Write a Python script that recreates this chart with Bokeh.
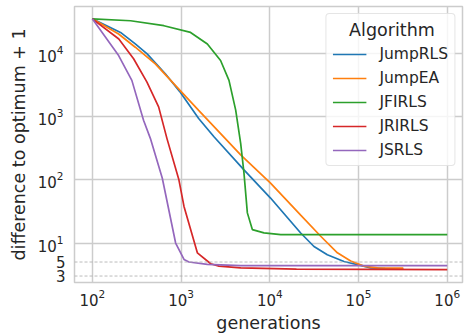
from bokeh.plotting import figure
from bokeh.models import FixedTicker, Span, Legend, LegendItem, LogAxis, BasicTickFormatter
from bokeh.embed import file_html
from bokeh.resources import INLINE

# ---- data ----
jumprls_x = [100, 208, 305, 415, 665, 963, 1580, 2350, 5120, 10200, 22300, 31500, 44500, 68600, 97200, 137000, 200000, 320000]
jumprls_y = [35500, 21600, 14200, 9890, 4790, 2520, 937, 481, 144, 51.5, 14.4, 8.8, 6.5, 5.1, 4.55, 4.04, 3.95, 3.9]

jumpea_x = [100, 198, 305, 513, 863, 1580, 4700, 10200, 22300, 37500, 57800, 81600, 115000, 163000, 320000]
jumpea_y = [35500, 20400, 12600, 6880, 3130, 1260, 248, 88.7, 27.6, 12.8, 7.0, 5.2, 4.3, 4.05, 4.0]

jfirls_x = [100, 270, 641, 1280, 1980, 2790, 3470, 4130, 4700, 5120, 5590, 6360, 8600, 13300, 1000000]
jfirls_y = [35500, 33100, 27600, 21600, 14200, 7760, 3760, 1270, 379, 128, 30, 16.3, 14.5, 13.6, 13.6]

jrirls_x = [100, 199, 292, 413, 559, 693, 946, 1080, 1527, 2160, 2675, 4700, 20000, 1000000]
jrirls_y = [35500, 17000, 8260, 3530, 1430, 454, 100, 38, 7.0, 4.7, 4.3, 4.05, 3.85, 3.8]

jsrls_x = [100, 198, 279, 378, 451, 615, 869, 1080, 1228, 1980, 4700, 1000000]
jsrls_y = [35500, 9300, 3760, 881, 454, 106, 10, 5.5, 5.0, 4.6, 4.4, 4.4]

names = ["JumpRLS", "JumpEA", "JFIRLS", "JRIRLS", "JSRLS"]
xs = [jumprls_x, jumpea_x, jfirls_x, jrirls_x, jsrls_x]
ys = [jumprls_y, jumpea_y, jfirls_y, jrirls_y, jsrls_y]
colors = ["#1f77b4", "#ff7f0e", "#2ca02c", "#d62728", "#9467bd"]

x_ticks = [100, 1000, 10000, 100000, 1000000]
y_ticks = [10, 100, 1000, 10000]
extra_y_ticks = [3, 5]

TXT = "#262626"
GRID = "#cccccc"
FONT = "DejaVu Sans"

p = figure(width=465, height=335, x_axis_type="log", y_axis_type="log",
           x_range=(63, 1.486e6), y_range=(2.37, 55600),
           output_backend="svg", toolbar_location=None,
           min_border_left=74, min_border_right=3, min_border_top=6, min_border_bottom=52)

p.outline_line_color = GRID
p.outline_line_width = 1.5
p.background_fill_color = "white"

renderers = []
for n, x, y, c in zip(names, xs, ys, colors):
    r = p.line(x, y, line_color=c, line_width=1.7)
    renderers.append(r)

for v in extra_y_ticks:
    p.add_layout(Span(location=v, dimension="width", line_color="#aaaaaa",
                      line_width=0.8, line_dash="3 2"))

# inner left axis: the 3 / 5 ticks
small_axis = LogAxis(ticker=FixedTicker(ticks=extra_y_ticks), formatter=BasicTickFormatter())
main_y = p.yaxis[0]
p.left = [small_axis, main_y]

p.xaxis.ticker = FixedTicker(ticks=x_ticks)
main_y.ticker = FixedTicker(ticks=y_ticks)
p.xgrid.ticker = FixedTicker(ticks=x_ticks)
p.ygrid.ticker = FixedTicker(ticks=y_ticks)
p.xgrid.grid_line_color = GRID
p.ygrid.grid_line_color = GRID
p.xgrid.grid_line_width = 1.5
p.ygrid.grid_line_width = 1.5

for ax in (p.xaxis[0], main_y, small_axis):
    ax.axis_line_color = None
    ax.major_tick_line_color = None
    ax.minor_tick_line_color = None
    ax.major_tick_out = 0
    ax.major_label_text_color = TXT
    ax.major_label_text_font = FONT
    ax.major_label_text_font_size = "15px"
    ax.axis_label_text_color = TXT
    ax.axis_label_text_font = FONT
    ax.axis_label_text_font_size = "17.5px"
    ax.axis_label_text_font_style = "normal"

p.xaxis.axis_label = "generations"
main_y.axis_label = "difference to optimum + 1"
p.xaxis.major_label_standoff = 6
small_axis.major_label_standoff = 9
main_y.major_label_standoff = -11
p.xaxis.axis_label_standoff = 4
main_y.axis_label_standoff = 6

legend = Legend(items=[LegendItem(label=n, renderers=[r]) for n, r in zip(names, renderers)],
                location="top_right", title="\u00a0\u00a0\u00a0Algorithm")
legend.title_text_font = FONT
legend.title_text_font_size = "17.5px"
legend.title_text_font_style = "normal"
legend.title_text_color = TXT
legend.title_standoff = 5
legend.label_text_font = FONT
legend.label_text_font_size = "15.5px"
legend.label_text_color = TXT
legend.glyph_width = 34
legend.glyph_height = 18
legend.label_height = 18
legend.spacing = 6
legend.padding = 6
legend.margin = 7
legend.label_standoff = 13
legend.border_line_color = GRID
legend.border_line_width = 1
legend.background_fill_alpha = 0.8
if "border_radius" in Legend.properties():
    legend.border_radius = 4
p.add_layout(legend)

open("out.html", "w").write(file_html(p, INLINE))
